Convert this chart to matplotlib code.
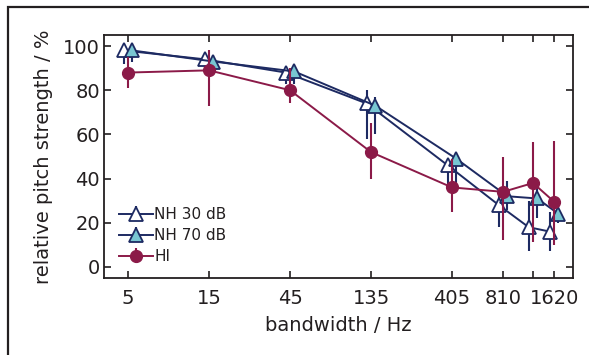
import numpy as np
import matplotlib.pyplot as plt
from matplotlib.patches import Rectangle
from matplotlib.ticker import FixedLocator, NullLocator

plt.rcParams['font.family'] = ['DejaVu Sans']

# bandwidths (Hz)
bw = np.array([5, 15, 45, 135, 405, 810, 1215, 1620])
tick_labels = ['5', '15', '45', '135', '405', '810', '', '1620']

# relative pitch strength (%)
nh30 = np.array([98, 94, 88, 74, 46, 28, 18, 16])
nh30_lo = np.array([92, 90, 83, 58, 37, 18, 7, 7])
nh30_hi = np.array([100, 97, 91, 80, 49, 34, 30, 25])

nh70 = np.array([98, 93, 88.5, 73, 49, 32, 31, 24])
nh70_lo = np.array([93, 89, 83, 60, 38, 26, 22, 20])
nh70_hi = np.array([100, 96, 91, 77, 51, 39, 36, 28])

hi = np.array([88, 89, 80, 52, 36, 34, 38, 29.5])
hi_lo = np.array([81, 73, 74, 40, 25, 12, 11.5, 10])
hi_hi = np.array([95, 98, 90, 65, 49, 50, 56.5, 57])

navy = '#1d2a62'
cyan = '#78c6d2'
maroon = '#8b1a48'
txt = '#231f20'

fig = plt.figure(figsize=(5.89, 3.55), dpi=100)
ax = fig.add_axes([0.1766, 0.2169, 0.7962, 0.6845])

# outer frame, cut off at right and bottom
fig.patches.append(Rectangle((8 / 589, -0.1), 1.2, 1 - 7 / 355 + 0.1,
                             transform=fig.transFigure, fill=False,
                             edgecolor='#231f20', linewidth=1.6))

dodge = 1.06

ax.errorbar(bw / dodge, nh30, yerr=[nh30 - nh30_lo, nh30_hi - nh30],
            color=navy, lw=1.4, elinewidth=1.5, capsize=0,
            marker='^', ms=10, mfc='white', mec=navy, mew=1.3,
            label='NH 30 dB', zorder=3)
ax.errorbar(bw * dodge, nh70, yerr=[nh70 - nh70_lo, nh70_hi - nh70],
            color=navy, lw=1.4, elinewidth=1.5, capsize=0,
            marker='^', ms=10, mfc=cyan, mec=navy, mew=1.3,
            label='NH 70 dB', zorder=4)
ax.errorbar(bw, hi, yerr=[hi - hi_lo, hi_hi - hi],
            color=maroon, lw=1.4, elinewidth=1.5, capsize=0,
            marker='o', ms=8.5, mfc=maroon, mec=maroon, mew=1,
            label='HI', zorder=5)

ax.set_xscale('log')
ax.set_xlim(3.61, 2090)
ax.set_ylim(-5, 105)
ax.xaxis.set_major_locator(FixedLocator(bw))
ax.xaxis.set_minor_locator(NullLocator())
ax.set_xticklabels(tick_labels)
ax.set_yticks([0, 20, 40, 60, 80, 100])

ax.tick_params(direction='in', top=True, right=True, length=5, width=1.2,
               labelsize=14, colors=txt, pad=8)
ax.tick_params(axis='y', pad=3)
for s in ax.spines.values():
    s.set_linewidth(1.3)
    s.set_color(txt)

ax.set_xlabel('bandwidth / Hz', fontsize=14, color=txt, labelpad=6)
ax.set_ylabel('relative pitch strength / %', fontsize=14, color=txt, labelpad=7)

leg = ax.legend(loc='lower left', bbox_to_anchor=(0.032, 0.057), frameon=False,
                fontsize=11, handlelength=2.2, handletextpad=0.1,
                labelspacing=0.4, borderaxespad=0, borderpad=0)
for t in leg.get_texts():
    t.set_color(txt)

fig.savefig('out.png', dpi=100)
